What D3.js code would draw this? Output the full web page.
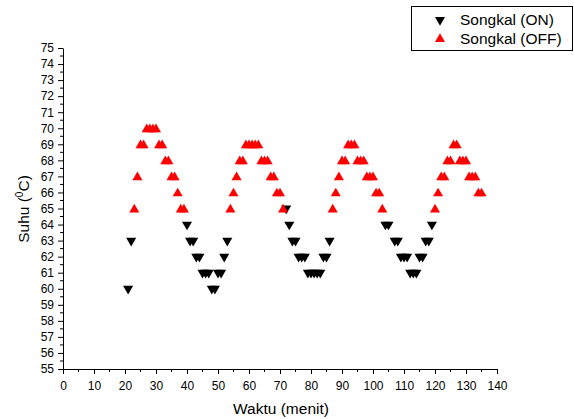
<!DOCTYPE html>
<html><head><meta charset="utf-8">
<script src="https://cdn.jsdelivr.net/npm/d3@7"></script>
<style>body{margin:0;background:#fff}svg{display:block;font-family:"Liberation Sans",Arial,sans-serif}</style>
</head><body><svg id="c" width="574" height="419"></svg>
<script>
// Songkal ON (black, down triangles): time (minutes) and temperature (°C)
const onTime = [21,22, 40,41,42,43,44,45,46,47,48,49,50,51,52,53, 72,73,74,75,76,77,78,79,80,81,82,83,84,85,86, 104,105,107,108,109,110,111,112,113,114,115,116,117,118,119];
const onTemp = [60,63, 64,63,63,62,62,61,61,61,60,60,61,61,62,63, 65,64,63,63,62,62,62,61,61,61,61,61,62,62,63, 64,64,63,63,62,62,62,61,61,61,62,62,63,63,64];
// Songkal OFF (red, up triangles)
const offTime = [23,24,25,26,27,28,29,30,31,32,33,34,35,36,37,38,39, 54,55,56,57,58,59,60,61,62,63,64,65,66,67,68,69,70,71, 87,88,89,90,91,92,93,94,95,96,97,98,99,100,101,102,103, 120,121,122,123,124,125,126,127,128,129,130,131,132,133,134,135];
const offTemp = [65,67,69,69,70,70,70,70,69,69,68,68,67,67,66,65,65, 65,66,67,68,68,69,69,69,69,69,68,68,68,67,67,66,66,65, 65,66,67,68,68,69,69,69,68,68,68,67,67,67,66,66,65, 65,66,67,67,68,68,69,69,68,68,68,67,67,67,66,66];
const xTicks = d3.range(0, 141, 10);
const yTicks = d3.range(55, 76, 1);
const seriesNames = ["Songkal (ON)", "Songkal (OFF)"];

const svg = d3.select("#c");
const x = d3.scaleLinear().domain([0,140]).range([63,497]);
const y = d3.scaleLinear().domain([55,75]).range([369,48]);

// minor ticks
svg.append("g").selectAll("line").data(d3.range(5,140,10)).join("line")
  .attr("x1",d=>x(d)).attr("x2",d=>x(d)).attr("y1",369).attr("y2",372).attr("stroke","#000");
svg.append("g").selectAll("line").data(d3.range(55.5,75,1)).join("line")
  .attr("y1",d=>y(d)).attr("y2",d=>y(d)).attr("x1",63).attr("x2",60).attr("stroke","#000");

const xa = svg.append("g").attr("transform","translate(0,369)")
  .call(d3.axisBottom(x).tickValues(xTicks).tickSize(5).tickSizeOuter(0).tickPadding(7));
const ya = svg.append("g").attr("transform","translate(63,0)")
  .call(d3.axisLeft(y).tickValues(yTicks).tickSize(5).tickSizeOuter(0).tickPadding(4));
[xa,ya].forEach(a=>{a.selectAll("text").attr("font-size",12).attr("fill","#000").style("font-family","'Liberation Sans',Arial,sans-serif");
  a.selectAll("line,path").attr("stroke","#000");});

svg.append("text").attr("x",281).attr("y",414).attr("text-anchor","middle").attr("font-size",15.5).text("Waktu (menit)");
const yl = svg.append("text").attr("transform","translate(29,209) rotate(-90)").attr("text-anchor","middle").attr("font-size",15.5);
yl.append("tspan").text("Suhu (");
yl.append("tspan").attr("font-size",10).attr("dy",-6).text("0");
yl.append("tspan").attr("dy",6).text("C)");

const down = d3.symbol().type(d3.symbolTriangle).size(44);
svg.append("g").selectAll("path").data(onTime.map((t,i)=>[t,onTemp[i]])).join("path")
  .attr("d",down).attr("fill","#000")
  .attr("transform",d=>`translate(${x(d[0])},${y(d[1])}) rotate(180)`);
svg.append("g").selectAll("path").data(offTime.map((t,i)=>[t,offTemp[i]])).join("path")
  .attr("d",down).attr("fill","#ff0000")
  .attr("transform",d=>`translate(${x(d[0])},${y(d[1])+1})`);

// legend
const lg = svg.append("g");
lg.append("rect").attr("x",411.5).attr("y",6.5).attr("width",161).attr("height",44).attr("fill","#fff").attr("stroke","#000");
lg.append("path").attr("d",down).attr("fill","#000").attr("transform","translate(440,20) rotate(180)");
lg.append("path").attr("d",down).attr("fill","#ff0000").attr("transform","translate(440,39)");
lg.append("text").attr("x",460).attr("y",25).attr("font-size",15.5).text(seriesNames[0]);
lg.append("text").attr("x",460).attr("y",44).attr("font-size",15.5).text(seriesNames[1]);
</script></body></html>
